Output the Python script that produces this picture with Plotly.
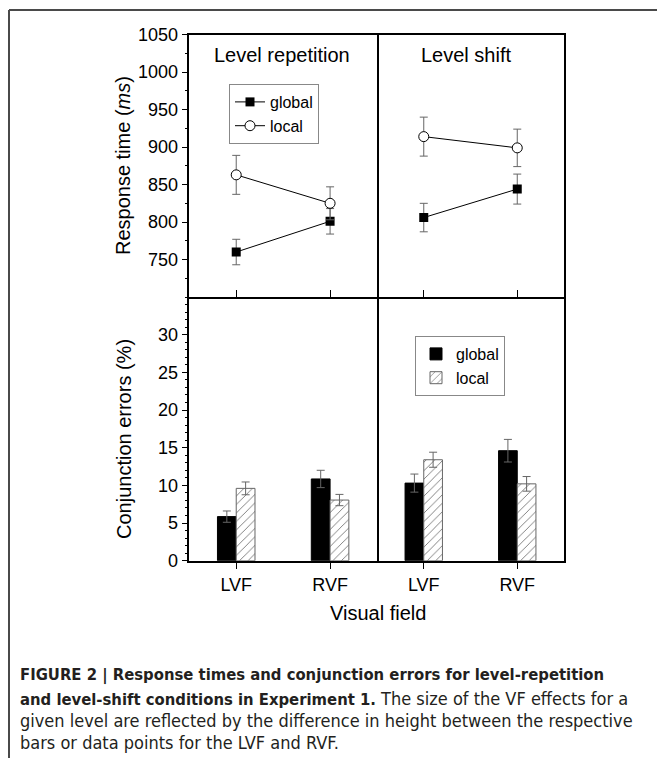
import plotly.graph_objects as go

W, H = 657, 758

# ---------------- data ----------------
fields = ["LVF", "RVF"]
field_pos = [1, 2]
panel_titles = ["Level repetition", "Level shift"]
series_names = ["global", "local"]

# Response times (ms)
rt_rep_global = [760, 801]
rt_rep_global_err = [17, 17]
rt_rep_local = [863, 825]
rt_rep_local_err = [26, 22]
rt_shift_global = [806, 844]
rt_shift_global_err = [19, 20]
rt_shift_local = [914, 899]
rt_shift_local_err = [26, 25]

# Conjunction errors (%)
ce_rep_global = [5.85, 10.85]
ce_rep_global_err = [0.75, 1.15]
ce_rep_local = [9.6, 8.05]
ce_rep_local_err = [0.85, 0.75]
ce_shift_global = [10.3, 14.6]
ce_shift_global_err = [1.2, 1.5]
ce_shift_local = [13.4, 10.2]
ce_shift_local_err = [1.0, 0.97]

rt_ticks = [750, 800, 850, 900, 950, 1000, 1050]
ce_ticks = [0, 5, 10, 15, 20, 25, 30]

B = '<span style="font-size:16.5px"><b>'
BE = '</b></span>'
caption_lines = [
    B + "FIGURE 2 | Response times and conjunction errors for level-repetition" + BE,
    B + "and level-shift conditions in Experiment 1." + BE + " The size of the VF effects for a",
    "given level are reflected by the difference in height between the respective",
    "bars or data points for the LVF and RVF.",
]


def px(x):
    return x / W


def py(y):
    return 1 - y / H


FONT = "Liberation Sans, Arial, sans-serif"
CAPFONT = "Liberation Sans Narrow, DejaVu Sans Condensed, Liberation Sans, sans-serif"
ERR = "#666666"

fig = go.Figure()

rt_sets = [
    (rt_rep_global, rt_rep_global_err, rt_rep_local, rt_rep_local_err, "x", "y", True),
    (rt_shift_global, rt_shift_global_err, rt_shift_local, rt_shift_local_err, "x2", "y2", False),
]
for g, ge, l, le, xa, ya, show in rt_sets:
    fig.add_trace(go.Scatter(
        x=field_pos, y=g, name=series_names[0], mode="lines+markers",
        line=dict(color="black", width=1),
        marker=dict(symbol="square", size=9, color="black"),
        error_y=dict(type="data", array=ge, color=ERR, thickness=1, width=4),
        xaxis=xa, yaxis=ya, showlegend=show, legend="legend"))
    fig.add_trace(go.Scatter(
        x=field_pos, y=l, name=series_names[1], mode="lines+markers",
        line=dict(color="black", width=1),
        marker=dict(symbol="circle", size=10, color="white", line=dict(color="black", width=1)),
        error_y=dict(type="data", array=le, color=ERR, thickness=1, width=4),
        xaxis=xa, yaxis=ya, showlegend=show, legend="legend"))

ce_sets = [
    (ce_rep_global, ce_rep_global_err, ce_rep_local, ce_rep_local_err, "x3", "y3", False),
    (ce_shift_global, ce_shift_global_err, ce_shift_local, ce_shift_local_err, "x4", "y4", True),
]
for g, ge, l, le, xa, ya, show in ce_sets:
    fig.add_trace(go.Bar(
        x=field_pos, y=g, name=series_names[0],
        marker=dict(color="black", line=dict(color="black", width=1)),
        error_y=dict(type="data", array=ge, color=ERR, thickness=1, width=4),
        xaxis=xa, yaxis=ya, showlegend=show, legend="legend2"))
    fig.add_trace(go.Bar(
        x=field_pos, y=l, name=series_names[1],
        marker=dict(color="white", line=dict(color="#666666", width=1),
                    pattern=dict(shape="/", fgcolor="#777777", bgcolor="white", size=6, solidity=0.15)),
        error_y=dict(type="data", array=le, color=ERR, thickness=1, width=4),
        xaxis=xa, yaxis=ya, showlegend=show, legend="legend2"))

# ---------------- geometry ----------------
xl0, xm, xr1 = px(189.3), px(377), px(564)
yt1, ym, yb0 = py(34.7), py(297), py(560.7)

common = dict(showline=True, linecolor="black", linewidth=1.5,
              showgrid=False, zeroline=False, tickcolor="black", tickwidth=1.2,
              tickfont=dict(family=FONT, size=18, color="black"))

fig.update_layout(
    width=W, height=H, template="none",
    margin=dict(l=0, r=0, t=0, b=0),
    paper_bgcolor="white", plot_bgcolor="white",
    font=dict(family=FONT, color="black"),
    barmode="group", bargap=0.6, bargroupgap=0,
    # top-left
    xaxis=dict(domain=[xl0, xm], anchor="y", range=[0.5, 2.5], tickmode="array", mirror=True,
               tickvals=field_pos, ticks="inside", ticklen=7, showticklabels=False, **common),
    yaxis=dict(domain=[ym, yt1], anchor="x", range=[700, 1050], tickmode="array", mirror=True,
               tickvals=rt_ticks, ticks="outside", ticklen=6,
               minor=dict(tickmode="linear", tick0=700, dtick=25, ticks="outside", ticklen=3,
                          tickcolor="black", tickwidth=1), **common),
    # top-right
    xaxis2=dict(domain=[xm, xr1], anchor="y2", range=[0.5, 2.5], tickmode="array", mirror=True,
                tickvals=field_pos, ticks="inside", ticklen=7, showticklabels=False, **common),
    yaxis2=dict(domain=[ym, yt1], anchor="x2", range=[700, 1050], ticks="", side="right",
                mirror=False, showticklabels=False, **common),
    # bottom-left
    xaxis3=dict(domain=[xl0, xm], anchor="y3", range=[0.5, 2.5], tickmode="array", mirror=False,
                tickvals=field_pos, ticktext=fields, ticks="outside", ticklen=7, **common),
    yaxis3=dict(domain=[yb0, ym], anchor="x3", range=[0, 35], tickmode="array", mirror=True,
                tickvals=ce_ticks, ticks="outside", ticklen=6,
                minor=dict(tickmode="linear", tick0=0, dtick=1, ticks="outside", ticklen=3,
                           tickcolor="black", tickwidth=1), **common),
    # bottom-right
    xaxis4=dict(domain=[xm, xr1], anchor="y4", range=[0.5, 2.5], tickmode="array", mirror=False,
                tickvals=field_pos, ticktext=fields, ticks="outside", ticklen=7, **common),
    yaxis4=dict(domain=[yb0, ym], anchor="x4", range=[0, 35], ticks="", side="right",
                mirror=False, showticklabels=False, **common),
    legend=dict(x=px(229), y=py(84), xanchor="left", yanchor="top",
                bgcolor="white", bordercolor="#888888", borderwidth=1,
                font=dict(family=FONT, size=16, color="black"), tracegroupgap=0),
    legend2=dict(x=px(415), y=py(336), xanchor="left", yanchor="top",
                 bgcolor="white", bordercolor="#888888", borderwidth=1,
                 font=dict(family=FONT, size=16, color="black"), tracegroupgap=0),
)

ann = []


def add_text(text, x, y, size=20, angle=0):
    ann.append(dict(text=text, x=px(x), y=py(y), xref="paper", yref="paper",
                    xanchor="center", yanchor="middle", textangle=angle,
                    showarrow=False, font=dict(family=FONT, size=size, color="black")))


add_text(panel_titles[0], 282, 55)
add_text(panel_titles[1], 466, 55)
add_text("Response time (<i>ms</i>)", 123, 166, angle=-90)
add_text("Conjunction errors (%)", 124, 439, angle=-90)
add_text("Visual field", 378, 613)

cap_y = [675, 698, 720, 742]
for t, yy in zip(caption_lines, cap_y):
    ann.append(dict(text=t, x=px(18), y=py(yy), xref="paper", yref="paper", xanchor="left",
                    yanchor="middle", showarrow=False,
                    font=dict(family=CAPFONT, size=18, color="#231f20")))
fig.update_layout(annotations=ann)

fig.update_layout(shapes=[
    dict(type="line", xref="paper", yref="paper", x0=px(9), x1=1, y0=py(10), y1=py(10),
         line=dict(color="#4a4a4a", width=2)),
    dict(type="line", xref="paper", yref="paper", x0=px(9), x1=px(9), y0=py(10), y1=0,
         line=dict(color="#4a4a4a", width=2)),
])

fig.write_html("out.html")
